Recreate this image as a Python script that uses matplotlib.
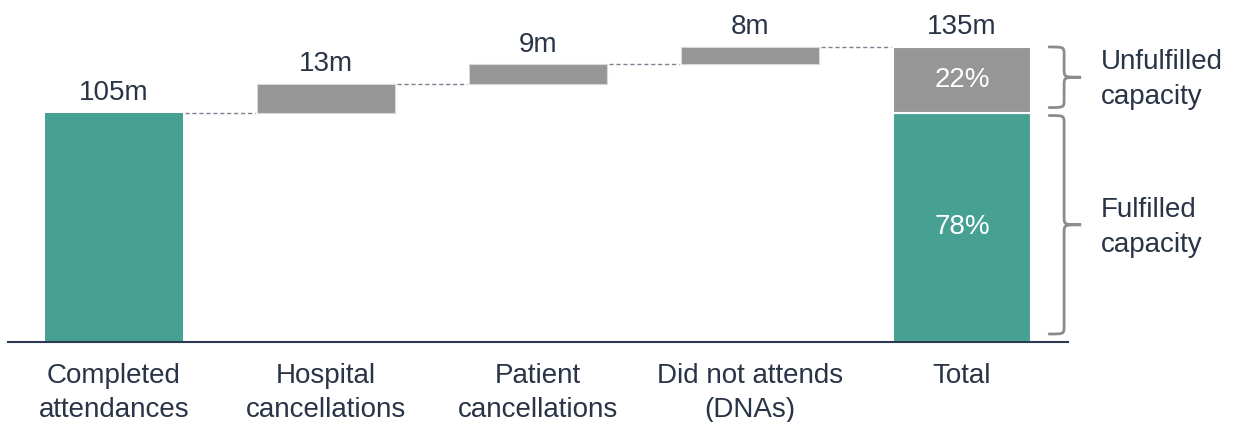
import matplotlib.pyplot as plt
from matplotlib.path import Path
from matplotlib.patches import PathPatch

categories = ['Completed\nattendances', 'Hospital\ncancellations', 'Patient\ncancellations',
              'Did not attends\n(DNAs)', 'Total']
steps = [105, 13, 9, 8]
total = sum(steps)
fulfilled = steps[0]
unfulfilled = total - fulfilled

teal = '#47a193'
grey = '#969696'
ink = '#2a3447'
brace_col = '#8c8c8c'
fs = 20

plt.rcParams['font.family'] = ['Liberation Sans', 'DejaVu Sans']

fig = plt.figure(figsize=(12.36, 4.22), dpi=100)
ax = fig.add_axes([8 / 1236, 80 / 422, 1060 / 1236, 327.8 / 422])
ax.set_xlim(-0.5, 4.5)
ax.set_ylim(0, 150)

width = 0.652
xs = list(range(len(categories)))

# first bar starts from zero, the rest float on the running total
ax.bar(xs[0], steps[0], width=width, color=teal, edgecolor='none')
running = steps[0]
tops = [running]
for i, v in enumerate(steps[1:], start=1):
    ax.bar(xs[i], v, bottom=running, width=width, color=grey, edgecolor='#d8d8d8', linewidth=0.8)
    running += v
    tops.append(running)

# total bar split into fulfilled / unfulfilled
ax.bar(xs[4], fulfilled, width=width, color=teal, edgecolor='white', linewidth=1.5)
ax.bar(xs[4], unfulfilled, bottom=fulfilled, width=width, color=grey, edgecolor='white', linewidth=1.5)
tops.append(total)

# dashed connectors between bars
levels = [steps[0]] + tops[1:4]
for i in range(4):
    ax.plot([xs[i] + width / 2 + 0.01, xs[i + 1] - width / 2 - 0.01], [levels[i], levels[i]],
            color='#7c8290', linestyle=(0, (3, 2)), linewidth=1)

# value labels
vals = steps + [total]
for x, top, v in zip(xs, tops, vals):
    ax.annotate(f'{v}m', (x, top), xytext=(0, 5), textcoords='offset points',
                ha='center', va='bottom', fontsize=fs, color=ink)

ax.text(xs[4], fulfilled / 2, f'{round(100 * fulfilled / total)}%', ha='center', va='center',
        fontsize=fs, color='white')
ax.text(xs[4], fulfilled + unfulfilled / 2, f'{round(100 * unfulfilled / total)}%', ha='center',
        va='center', fontsize=fs, color='white')

ax.set_xticks(xs)
ax.set_xticklabels(categories, fontsize=fs, color=ink, linespacing=1.43)
ax.tick_params(axis='x', length=0, pad=15)
ax.set_yticks([])
for s in ['top', 'right', 'left']:
    ax.spines[s].set_visible(False)
ax.spines['bottom'].set_color('#2d3a52')
ax.spines['bottom'].set_linewidth(1.5)


def brace(y0, y1, x0, x1, x2, r=8):
    # curly brace in pixel coords, y0 top, y1 bottom (display y goes up)
    ym = (y0 + y1) / 2
    verts = [(x0, y0), (x1, y0), (x1, y0), (x1, y0 - r),
             (x1, ym + r),
             (x1, ym), (x1, ym), (x2, ym),
             (x1, ym), (x1, ym), (x1, ym - r),
             (x1, y1 + r),
             (x1, y1), (x1, y1), (x0, y1)]
    codes = [Path.MOVETO, Path.CURVE4, Path.CURVE4, Path.CURVE4,
             Path.LINETO,
             Path.CURVE4, Path.CURVE4, Path.CURVE4,
             Path.CURVE4, Path.CURVE4, Path.CURVE4,
             Path.LINETO,
             Path.CURVE4, Path.CURVE4, Path.CURVE4]
    fig.add_artist(PathPatch(Path(verts, codes), transform=None, fill=False,
                             edgecolor=brace_col, linewidth=2, capstyle='round'))


to_px = ax.transData.transform
x_edge = to_px((xs[4] + width / 2, 0))[0]
bx0, bx1, bx2 = x_edge + 18, x_edge + 33, x_edge + 50
top_px = to_px((0, total))[1]
mid_px = to_px((0, fulfilled))[1]
base_px = to_px((0, 0))[1]
brace(top_px, mid_px + 5, bx0, bx1, bx2)
brace(mid_px - 3, base_px + 8, bx0, bx1, bx2)

fig.text((bx2 + 20) / 1236, ((top_px + mid_px) / 2) / 422, 'Unfulfilled\ncapacity',
         ha='left', va='center', fontsize=fs, color=ink, linespacing=1.43)
fig.text((bx2 + 20) / 1236, ((mid_px + base_px) / 2) / 422, 'Fulfilled\ncapacity',
         ha='left', va='center', fontsize=fs, color=ink, linespacing=1.43)

fig.savefig('out.png', dpi=100)
